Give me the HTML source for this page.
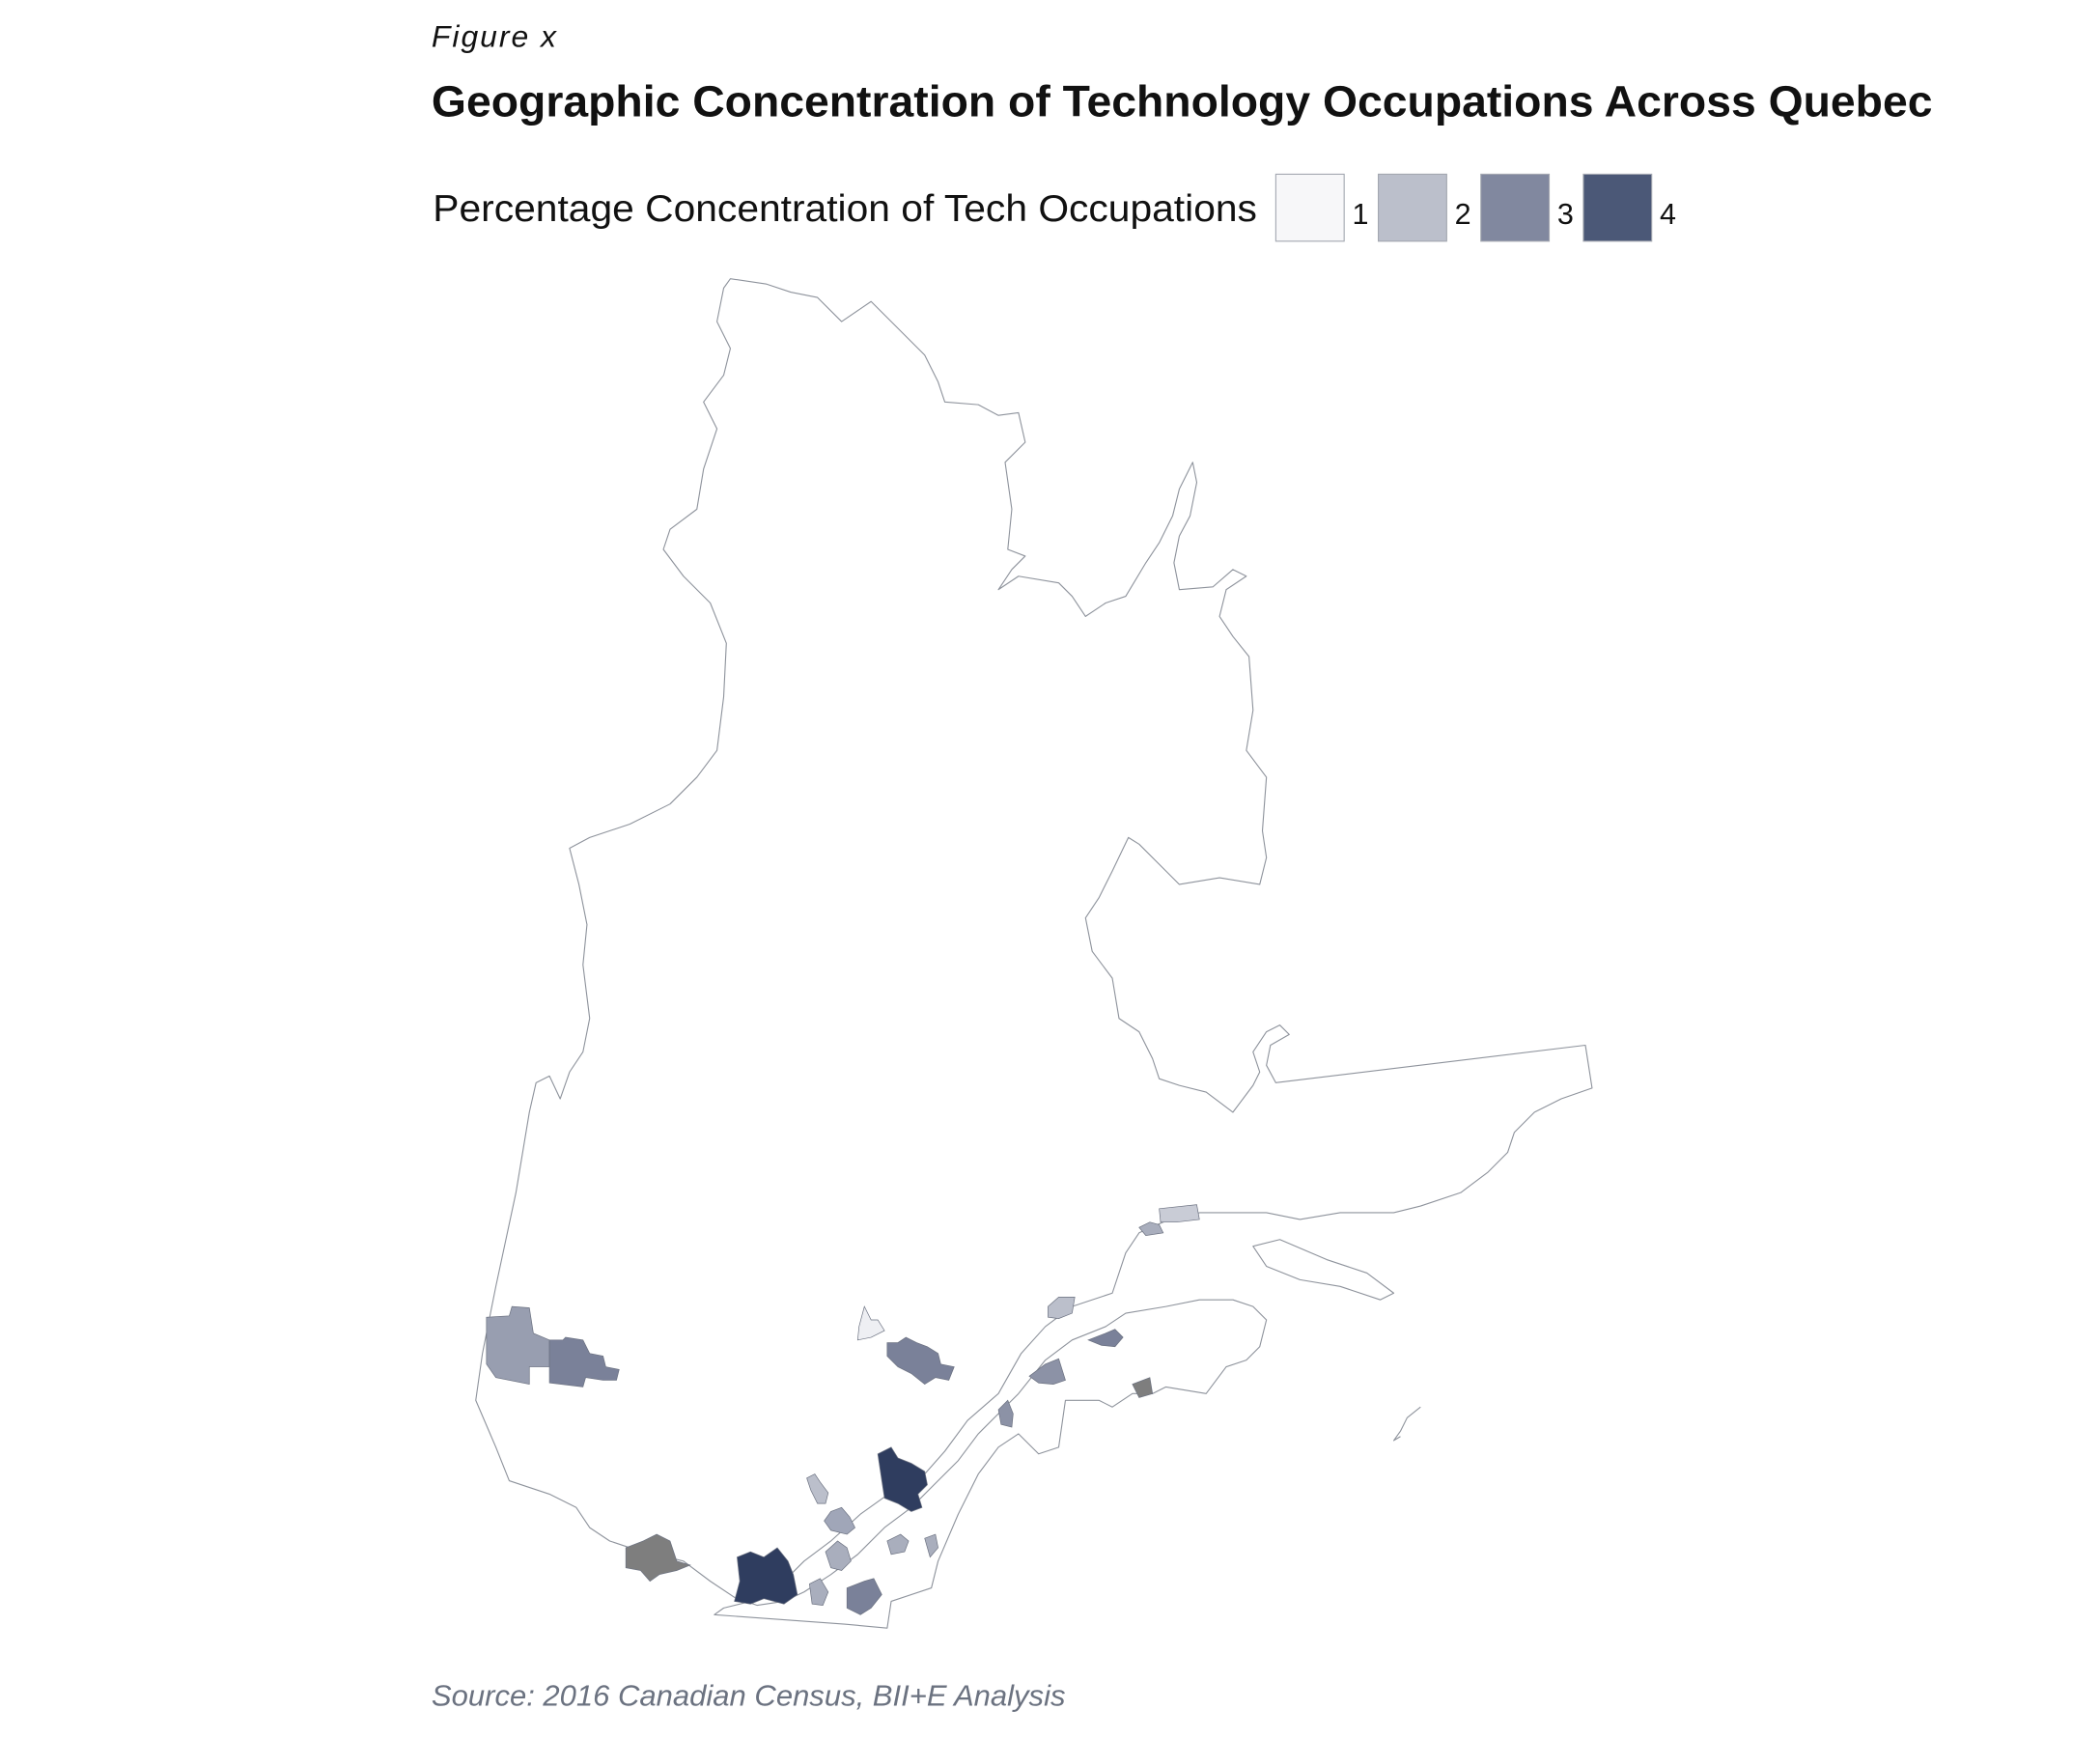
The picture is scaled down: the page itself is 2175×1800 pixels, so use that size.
<!DOCTYPE html>
<html><head><meta charset="utf-8">
<style>
html,body{margin:0;padding:0;background:#fff;}
svg{display:block;}
text{font-family:"Liberation Sans",sans-serif;}
</style></head>
<body>
<svg id="chart" width="2175" height="1800" viewBox="0 0 1567 1297" preserveAspectRatio="none" xmlns="http://www.w3.org/2000/svg">
<rect width="1567" height="1297" fill="#fff"/>
<text x="322" y="35" font-size="23" font-style="italic" fill="#111" textLength="93">Figure x</text>
<text x="322" y="87" font-size="33" font-weight="bold" fill="#111" textLength="1120" lengthAdjust="spacingAndGlyphs">Geographic Concentration of Technology Occupations Across Quebec</text>
<text x="323" y="165" font-size="28" fill="#111" textLength="615" lengthAdjust="spacingAndGlyphs">Percentage Concentration of Tech Occupations</text>
<g id="legend"></g>

<g id="map" fill="#fff" stroke="#8e939c" stroke-width="0.8" stroke-linejoin="round">
<path d="M545,208 L572,212 L590,218 L610,222 L628,240 L650,225 L670,245 L690,265 L700,285 L705,300 L730,302 L745,310 L760,308 L765,330 L750,345 L755,380 L752,410 L765,415 L755,425 L745,440 L760,430 L790,435 L800,445 L810,460 L825,450 L840,445 L855,420 L865,405 L875,385 L880,365 L890,345 L893,360 L888,385 L880,400 L876,420 L880,440 L905,438 L920,425 L930,430 L915,440 L910,460 L920,475 L932,490 L935,530 L930,560 L945,580 L942,620 L945,640 L940,660 L910,655 L880,660 L865,645 L850,630 L842,625 L830,650 L820,670 L810,685 L815,710 L830,730 L835,760 L850,770 L860,790 L865,805 L880,810 L900,815 L920,830 L935,810 L940,800 L935,785 L945,770 L955,765 L962,772 L948,780 L945,795 L952,808 L1183,780 L1188,812 L1165,820 L1145,830 L1130,845 L1125,860 L1110,875 L1090,890 L1060,900 L1040,905 L1000,905 L970,910 L945,905 L920,905 L895,905 L868,912 L850,920 L840,935 L830,965 L800,975 L780,990 L762,1010 L745,1040 L722,1060 L705,1083 L690,1100 L670,1110 L642,1130 L620,1150 L600,1165 L585,1180 L560,1195 L540,1200 L533,1205 L630,1212 L662,1215 L665,1195 L695,1185 L700,1165 L715,1130 L730,1100 L745,1080 L760,1070 L775,1085 L790,1080 L795,1045 L820,1045 L830,1050 L845,1040 L860,1040 L870,1035 L900,1040 L915,1020 L930,1015 L940,1005 L945,985 L935,975 L920,970 L895,970 L870,975 L840,980 L825,990 L800,1000 L780,1015 L760,1040 L745,1055 L730,1070 L715,1090 L700,1105 L680,1125 L660,1140 L640,1160 L620,1175 L600,1188 L585,1195 L565,1198 L548,1192 L530,1180 L510,1165 L490,1160 L470,1155 L455,1150 L440,1140 L430,1125 L410,1115 L380,1105 L370,1080 L355,1045 L360,1010 L370,960 L385,890 L395,830 L400,808 L410,803 L418,820 L425,800 L435,785 L440,760 L435,720 L438,690 L432,660 L425,633 L440,625 L470,615 L500,600 L520,580 L535,560 L540,520 L542,480 L530,450 L510,430 L495,410 L500,395 L520,380 L525,350 L535,320 L525,300 L540,280 L545,260 L535,240 L540,215 Z"/>
<path d="M935,930 L955,925 L990,940 L1020,950 L1040,965 L1030,970 L1000,960 L970,955 L945,945 Z"/>
<path fill="none" d="M1060,1050 L1050,1058 L1045,1068 L1040,1075 L1045,1072"/>
</g>
<g id="regions" stroke="#6b7180" stroke-width="0.5"></g>

<text x="322" y="1273" font-size="22" font-style="italic" fill="#6b7280" textLength="473" lengthAdjust="spacingAndGlyphs">Source: 2016 Canadian Census, BII+E Analysis</text>
</svg>
<script>
const legendLabels = ["1","2","3","4"];
const legendColors = ["#f7f7f9","#bbbfcb","#81889f","#4b5877"];
const regionNames = ["abitibi-west","abitibi-east","saguenay-light","saguenay","gaspe","ottawa-gatineau","montreal","quebec-city","trois-rivieres-north","trois-rivieres","drummondville","victoriaville","thetford","granby","sherbrooke","montmagny","riviere-du-loup","rimouski","matane","baie-comeau","sept-iles"];
const regionColors = ["#989eb0","#7a8199","#eeeff3","#7a8199","#7e7e7e","#7e7e7e","#2f3d5f","#2f3d5f","#bbbfcb","#a0a6b8","#a9aebd","#a9aebd","#a9aebd","#a9aebd","#7a8199","#8c92a6","#8c92a6","#7a8199","#bbbfcb","#a9aebd","#c9ccd6"];
const regionShapes = [
"363,983 380,982 382,975 395,976 398,995 410,1000 410,1020 395,1020 395,1033 370,1028 363,1018",
"410,1000 420,1000 422,998 435,1000 440,1010 450,1012 452,1020 462,1022 460,1030 450,1030 437,1028 435,1035 410,1032",
"645,975 650,985 655,985 660,993 650,998 640,1000 641,990",
"662,1002 670,1002 676,998 684,1002 692,1005 700,1010 702,1018 712,1020 708,1030 698,1028 690,1033 680,1025 670,1020 662,1012",
"845,1033 858,1028 860,1040 850,1043",
"467,1155 480,1150 490,1145 500,1150 505,1165 515,1168 505,1172 492,1175 485,1180 478,1172 467,1170",
"550,1162 560,1158 570,1162 580,1155 588,1165 592,1175 595,1190 585,1197 570,1193 560,1197 548,1195 552,1180",
"655,1085 665,1080 670,1088 680,1092 690,1098 692,1108 685,1115 688,1125 680,1128 670,1122 660,1118 658,1105",
"602,1103 608,1100 612,1106 618,1114 616,1122 610,1122 605,1112",
"620,1128 628,1125 634,1132 638,1140 632,1145 620,1142 615,1135",
"616,1158 625,1150 632,1155 635,1165 628,1172 620,1170",
"662,1150 672,1145 678,1150 675,1158 665,1160",
"690,1148 698,1145 700,1155 694,1162",
"604,1182 612,1178 618,1188 614,1198 606,1197",
"632,1185 645,1180 652,1178 658,1190 650,1200 642,1205 632,1200",
"745,1052 752,1045 756,1055 755,1065 747,1063",
"768,1027 780,1018 790,1014 795,1030 786,1033 775,1032",
"812,1000 825,995 832,992 838,998 832,1005 822,1004",
"782,975 790,968 802,968 800,980 790,984 782,983",
"850,916 858,912 865,914 868,920 855,922",
"865,902 893,899 895,910 878,912 866,912"
];
const NS = "http://www.w3.org/2000/svg";
const legend = document.getElementById("legend");
legendLabels.forEach((lab, i) => {
  const x = 952 + i * 76.5;
  const r = document.createElementNS(NS, "rect");
  r.setAttribute("x", x); r.setAttribute("y", 130);
  r.setAttribute("width", 51); r.setAttribute("height", 50);
  r.setAttribute("fill", legendColors[i]);
  r.setAttribute("stroke", "#a3a7b0"); r.setAttribute("stroke-width", "0.8");
  
  
  legend.appendChild(r);
  const t = document.createElementNS(NS, "text");
  t.setAttribute("x", x + 57); t.setAttribute("y", 167);
  t.setAttribute("font-size", "22"); t.setAttribute("fill", "#111");
  t.textContent = lab;
  
  
  legend.appendChild(t);
});
const regions = document.getElementById("regions");
regionShapes.forEach((pts, i) => {
  const p = document.createElementNS(NS, "polygon");
  p.setAttribute("points", pts);
  p.setAttribute("fill", regionColors[i]);
  
  
  regions.appendChild(p);
});
</script>
</body></html>
